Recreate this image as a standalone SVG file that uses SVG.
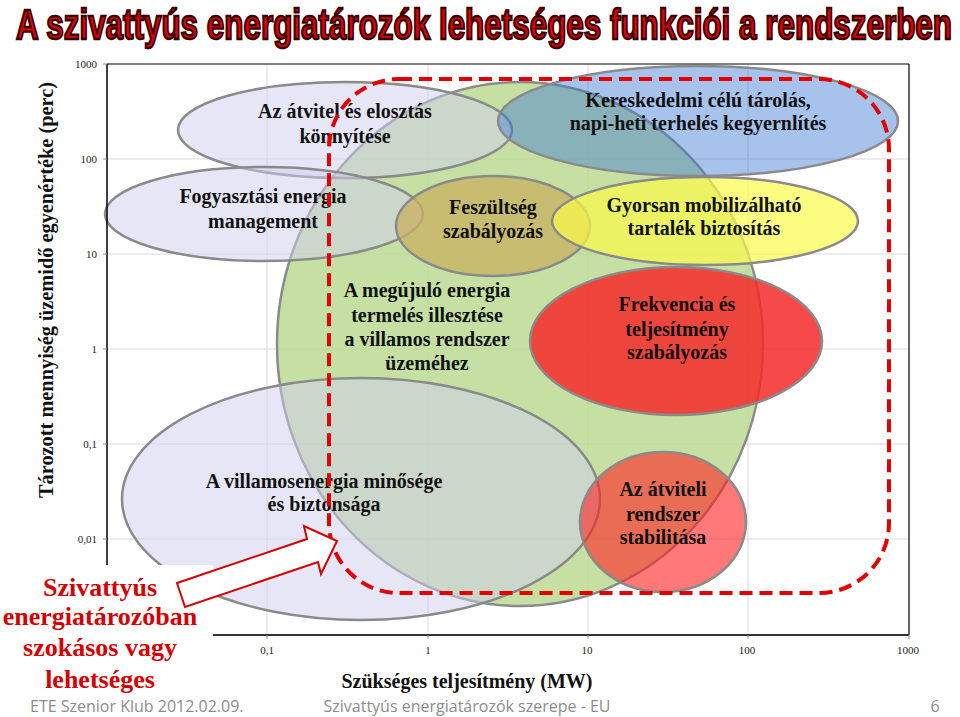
<svg xmlns="http://www.w3.org/2000/svg" width="960" height="717" viewBox="0 0 960 717">
<style>
.grid{stroke:#d9d9d9;stroke-width:1;fill:none}
.tick{font-family:"Liberation Serif",serif;font-size:11px;fill:#222}
.lbl{font-family:"Liberation Serif",serif;font-weight:bold;font-size:20px;fill:#111;text-anchor:middle}
.ell{stroke:#8a8a8a;stroke-width:2.5}
.foot{font-family:"Open Sans","Liberation Sans",sans-serif;font-size:16px;fill:#8c8c8c}
.side{font-family:"Liberation Serif",serif;font-weight:bold;font-size:26px;fill:#d40000;text-anchor:middle}
</style>
<rect width="960" height="717" fill="#fff"/>
<g transform="scale(0.8,1)">
<text x="605" y="39" font-family="Liberation Sans Narrow,Liberation Sans,sans-serif" font-weight="bold" font-size="42" fill="#e00000" stroke="#3a0000" stroke-width="2.4" text-anchor="middle" textLength="1170" lengthAdjust="spacingAndGlyphs">A szivattyús energiatározók lehetséges funkciói a rendszerben</text>
</g>

<g id="plot-grid">
<line class="grid" x1="107" y1="159" x2="909" y2="159"/>
<line class="grid" x1="107" y1="254" x2="909" y2="254"/>
<line class="grid" x1="107" y1="349" x2="909" y2="349"/>
<line class="grid" x1="107" y1="444" x2="909" y2="444"/>
<line class="grid" x1="107" y1="539" x2="909" y2="539"/>
<line class="grid" x1="267" y1="64" x2="267" y2="635"/>
<line class="grid" x1="428" y1="64" x2="428" y2="635"/>
<line class="grid" x1="588" y1="64" x2="588" y2="635"/>
<line class="grid" x1="748" y1="64" x2="748" y2="635"/>
</g>

<g id="n-megujulo"><ellipse class="ell" cx="520" cy="344" rx="243" ry="262" fill="#bcdb94" fill-opacity="0.85"/></g>
<g id="n-villamos"><ellipse class="ell" cx="361" cy="499" rx="239" ry="121" fill="#cdcdef" fill-opacity="0.5"/></g>
<g id="n-atvitel"><ellipse class="ell" cx="345" cy="130" rx="167" ry="48" fill="#cdcdef" fill-opacity="0.5"/></g>
<g id="n-fogyasztasi"><ellipse class="ell" cx="264" cy="214" rx="159" ry="47" fill="#cdcdef" fill-opacity="0.5"/></g>
<g id="n-feszultseg"><ellipse class="ell" cx="493" cy="226" rx="97" ry="50" fill="#c8b060" fill-opacity="0.75"/></g>
<g id="n-kereskedelmi"><ellipse class="ell" cx="698" cy="121" rx="200" ry="55" fill="#3c78d2" fill-opacity="0.45"/></g>
<g id="n-gyorsan"><ellipse class="ell" cx="705" cy="221" rx="153" ry="44" fill="#fbfb4a" fill-opacity="0.7"/></g>
<g id="n-frekvencia"><ellipse class="ell" cx="676" cy="341" rx="146" ry="74" fill="#f42a2a" fill-opacity="0.85"/></g>
<g id="n-stabilitas"><ellipse class="ell" cx="663" cy="522" rx="83" ry="70" fill="#ff2020" fill-opacity="0.6"/></g>

<g id="labels">
<text class="lbl" x="345" y="118">Az átvitel és elosztás</text>
<text class="lbl" x="345" y="143">könnyítése</text>
<text class="lbl" x="263" y="203">Fogyasztási energia</text>
<text class="lbl" x="263" y="228">management</text>
<text class="lbl" x="493" y="214">Feszültség</text>
<text class="lbl" x="493" y="238">szabályozás</text>
<text class="lbl" x="698" y="107">Kereskedelmi célú tárolás,</text>
<text class="lbl" x="698" y="130">napi-heti terhelés kegyernlítés</text>
<text class="lbl" x="704" y="212">Gyorsan mobilizálható</text>
<text class="lbl" x="704" y="235">tartalék biztosítás</text>
<text class="lbl" x="427" y="297">A megújuló energia</text>
<text class="lbl" x="427" y="322">termelés illesztése</text>
<text class="lbl" x="427" y="346">a villamos rendszer</text>
<text class="lbl" x="427" y="370">üzeméhez</text>
<text class="lbl" x="677" y="311">Frekvencia és</text>
<text class="lbl" x="677" y="336">teljesítmény</text>
<text class="lbl" x="677" y="359">szabályozás</text>
<text class="lbl" x="663" y="496">Az átviteli</text>
<text class="lbl" x="663" y="521">rendszer</text>
<text class="lbl" x="663" y="544">stabilitása</text>
<text class="lbl" x="324" y="488">A villamosenergia minősége</text>
<text class="lbl" x="324" y="511">és biztonsága</text>
</g>

<g id="axes">
<line x1="107" y1="64" x2="909" y2="64" stroke="#000" stroke-width="1.2"/>
<line x1="909" y1="64" x2="909" y2="635" stroke="#000" stroke-width="1.2"/>
<line x1="107" y1="64" x2="107" y2="635" stroke="#000" stroke-width="1.5"/>
<line x1="107" y1="635" x2="909" y2="635" stroke="#333" stroke-width="2"/>
<g stroke="#888" stroke-width="1">
<line x1="103" y1="64" x2="107" y2="64"/><line x1="103" y1="159" x2="107" y2="159"/>
<line x1="103" y1="254" x2="107" y2="254"/><line x1="103" y1="349" x2="107" y2="349"/>
<line x1="103" y1="444" x2="107" y2="444"/><line x1="103" y1="539" x2="107" y2="539"/>
<line x1="267" y1="635" x2="267" y2="639"/><line x1="428" y1="635" x2="428" y2="639"/>
<line x1="588" y1="635" x2="588" y2="639"/><line x1="748" y1="635" x2="748" y2="639"/>
<line x1="909" y1="635" x2="909" y2="639"/>
</g>
<g class="tick" text-anchor="end">
<text x="97" y="68">1000</text><text x="97" y="163">100</text><text x="97" y="258">10</text>
<text x="97" y="353">1</text><text x="97" y="448">0,1</text><text x="97" y="543">0,01</text>
</g>
<g class="tick" text-anchor="middle">
<text x="267" y="654">0,1</text><text x="428" y="654">1</text><text x="587" y="654">10</text>
<text x="747" y="654">100</text><text x="908" y="654">1000</text>
</g>
<text x="53" y="290" transform="rotate(-90 53 290)" font-family="Liberation Serif,serif" font-weight="bold" font-size="21" fill="#111" text-anchor="middle" textLength="416" lengthAdjust="spacingAndGlyphs">Tározott mennyiség üzemidő egyenértéke (perc)</text>
<text x="467" y="688" font-family="Liberation Serif,serif" font-weight="bold" font-size="20" fill="#111" text-anchor="middle">Szükséges teljesítmény (MW)</text>
</g>

<g id="connectors">
<rect x="329" y="79" width="560" height="514" rx="70" ry="70" fill="none" stroke="#e30000" stroke-width="4" stroke-dasharray="13 7"/>
</g>

<rect x="0" y="565" width="213" height="135" fill="#fff"/>
<g id="note">
<text class="side" x="100" y="596">Szivattyús</text>
<text class="side" x="100" y="625">energiatározóban</text>
<text class="side" x="100" y="656">szokásos vagy</text>
<text class="side" x="100" y="688">lehetséges</text>
</g>
<g id="arrow">
<polygon points="177,583 307,539 304,526 337,541 321,574 318,562 185,607" fill="#fff" stroke="#d40000" stroke-width="2" stroke-linejoin="miter"/>
</g>

<g id="footer">
<text class="foot" x="30" y="712">ETE Szenior Klub 2012.02.09.</text>
<text class="foot" x="467" y="712" text-anchor="middle">Szivattyús energiatározók szerepe - EU</text>
<text class="foot" x="935" y="712" text-anchor="middle">6</text>
</g>
</svg>
